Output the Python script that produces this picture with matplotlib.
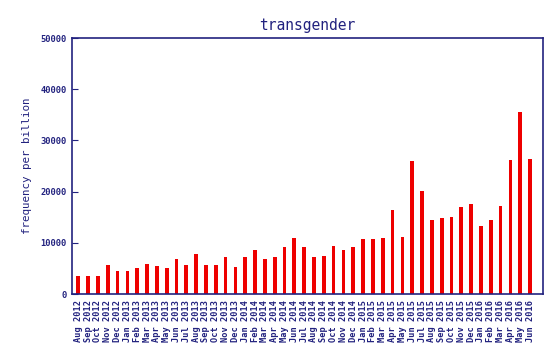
import matplotlib
matplotlib.use('Agg')
from matplotlib import pyplot as plt

months = ['Aug 2012', 'Sep 2012', 'Oct 2012', 'Nov 2012', 'Dec 2012',
          'Jan 2013', 'Feb 2013', 'Mar 2013', 'Apr 2013', 'May 2013', 'Jun 2013',
          'Jul 2013', 'Aug 2013', 'Sep 2013', 'Oct 2013', 'Nov 2013', 'Dec 2013',
          'Jan 2014', 'Feb 2014', 'Mar 2014', 'Apr 2014', 'May 2014', 'Jun 2014',
          'Jul 2014', 'Aug 2014', 'Sep 2014', 'Oct 2014', 'Nov 2014', 'Dec 2014',
          'Jan 2015', 'Feb 2015', 'Mar 2015', 'Apr 2015', 'May 2015', 'Jun 2015',
          'Jul 2015', 'Aug 2015', 'Sep 2015', 'Oct 2015', 'Nov 2015', 'Dec 2015',
          'Jan 2016', 'Feb 2016', 'Mar 2016', 'Apr 2016', 'May 2016', 'Jun 2016']
freq = [3600, 3600, 3600, 5750, 4500,
        4500, 5100, 5950, 5550, 5100, 6800,
        5750, 7900, 5750, 5750, 7250, 5300,
        7250, 8550, 6800, 7250, 9150, 10900,
        9150, 7250, 7450, 9400, 8550, 9150,
        10700, 10700, 10900, 16450, 11100, 26000,
        20100, 14400, 14800, 14950, 16900, 17600,
        13250, 14550, 17100, 26100, 35500, 26400]
yticks = [0, 10000, 20000, 30000, 40000, 50000]

navy = '#22227f'
mono = 'DejaVu Sans Mono'

fig = plt.figure(figsize=(5.59, 3.61), dpi=100)
ax = fig.add_axes([72 / 559, 1 - 294 / 361, 471 / 559, 256 / 361])

x = list(range(len(months)))
ax.bar(x, freq, width=0.38, color='#ee0000')

ax.set_xlim(-0.64, len(months) + 0.32)
ax.set_ylim(0, 50000)
ax.set_yticks(yticks)
ax.set_yticklabels([str(v) for v in yticks], family=mono, fontsize=6.3,
                   fontweight='bold', color=navy)
ax.set_xticks(x)
ax.set_xticklabels(months, rotation=90, family=mono, fontsize=6.2,
                   fontweight='bold', color=navy)
ax.tick_params(axis='y', direction='in', length=4, color=navy, pad=4)
ax.tick_params(axis='x', length=0, pad=4)
for s in ax.spines.values():
    s.set_color(navy)
    s.set_linewidth(1.2)

ax.set_ylabel('frequency per billion', family=mono, fontsize=7.8,
              color=navy, labelpad=6)
ax.set_title('transgender', family=mono, fontsize=10.5, color=navy, pad=6)

fig.savefig('out.png', dpi=100, facecolor='white')
